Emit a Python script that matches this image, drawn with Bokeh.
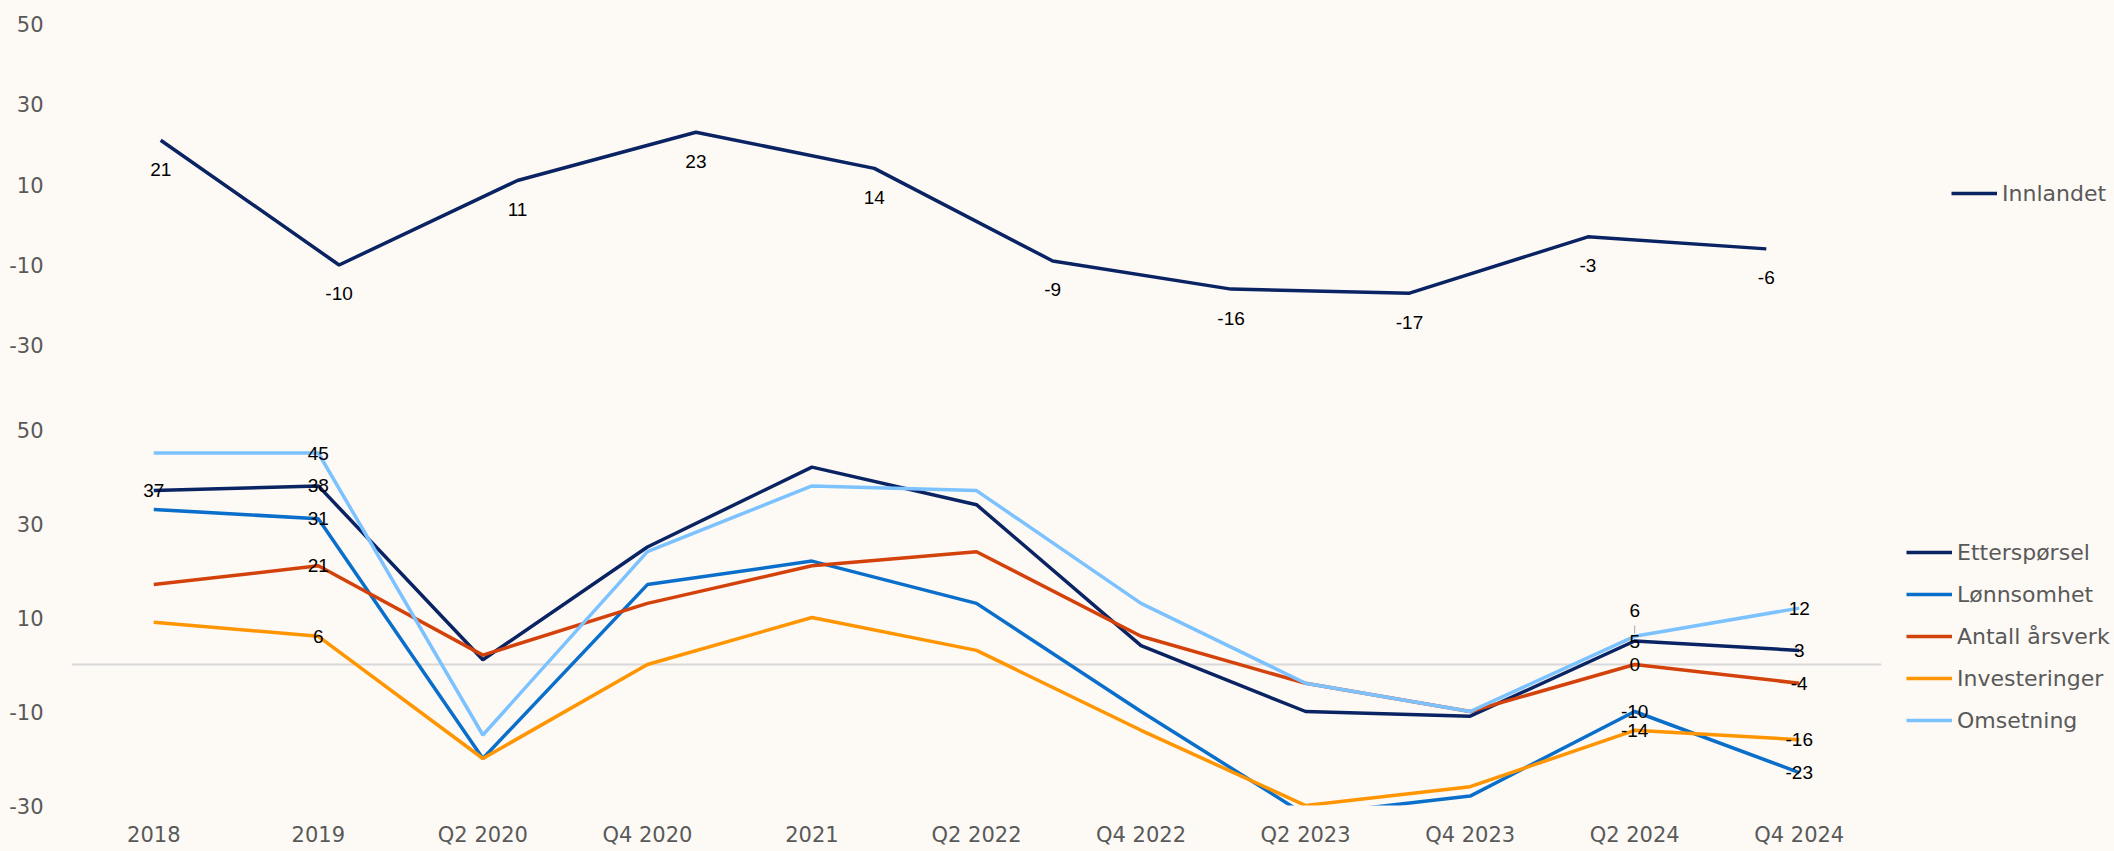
from bokeh.plotting import figure
from bokeh.models import Range1d, FactorRange, FixedTicker, Legend, LegendItem, ColumnDataSource
from bokeh.layouts import column
from bokeh.embed import file_html
from bokeh.resources import INLINE
from bokeh.core.properties import value

# ---------------- data ----------------
periods = ["2018", "2019", "Q2 2020", "Q4 2020", "2021", "Q2 2022",
           "Q4 2022", "Q2 2023", "Q4 2023", "Q2 2024", "Q4 2024"]

ettersporsel = [37, 38, 1, 25, 42, 34, 4, -10, -11, 5, 3]
lonnsomhet = [33, 31, -20, 17, 22, 13, -10, -32, -28, -10, -23]
antall_arsverk = [17, 21, 2, 13, 21, 24, 6, -4, -10, 0, -4]
investeringer = [9, 6, -20, 0, 10, 3, -14, -30, -26, -14, -16]
omsetning = [45, 45, -15, 24, 38, 37, 13, -4, -10, 6, 12]

innlandet = [21, -10, 11, 23, 14, -9, -16, -17, -3, -6]
innlandet_points = list(range(len(innlandet)))

y_ticks = [-30, -10, 10, 30, 50]
y_tick_labels = ["-30", "-10", "10", "30", "50"]

# which periods carry a data label
ettersporsel_labelled = ["2018", "2019", "Q2 2024", "Q4 2024"]
other_labelled = ["2019", "Q2 2024", "Q4 2024"]

# ---------------- style ----------------
BG = "#FDF9F5"
TICK_COL = "#595959"
NAVY = "#0A2463"
BLUE = "#0A6FCB"
RED = "#D4420C"
ORANGE = "#FF9500"
LIGHT = "#7CC2FF"
TICK_FONT = "DejaVu Sans"
LABEL_FONT = "Liberation Sans"
LW = 3.5


def style(p):
    p.background_fill_color = BG
    p.border_fill_color = BG
    p.outline_line_color = None
    p.yaxis.ticker = FixedTicker(ticks=y_ticks)
    p.yaxis.major_label_overrides = dict(zip(y_ticks, y_tick_labels))
    p.yaxis.axis_line_color = None
    p.yaxis.major_tick_line_color = None
    p.yaxis.minor_tick_line_color = None
    p.yaxis.major_label_text_font = TICK_FONT
    p.yaxis.major_label_text_font_size = "21px"
    p.yaxis.major_label_text_color = TICK_COL
    p.yaxis.major_label_standoff = 22
    p.xgrid.grid_line_color = None


def make_legend(items, loc):
    return Legend(items=items, location=loc, padding=0, margin=0, spacing=0,
                  glyph_width=46, glyph_height=42, label_height=42, label_standoff=5,
                  label_text_font=TICK_FONT, label_text_font_size="22px",
                  label_text_color=TICK_COL, background_fill_alpha=0, border_line_alpha=0)


# ---------------- top panel ----------------
top = figure(frame_width=1784, frame_height=342, min_border_left=71, min_border_right=259,
             min_border_top=13, min_border_bottom=35,
             x_range=Range1d(-0.5, len(innlandet) - 0.5), y_range=Range1d(-32.5, 52.5),
             output_backend="svg", toolbar_location=None)
style(top)
top.xaxis.visible = False
top.ygrid.grid_line_color = None

src_top = ColumnDataSource(dict(x=innlandet_points, y=innlandet,
                                t=[str(v) for v in innlandet]))
r_top = top.line("x", "y", source=src_top, line_color=NAVY, line_width=LW)
top.text("x", "y", text="t", source=src_top, text_align="center", text_baseline="middle",
         y_offset=29, text_font=value(LABEL_FONT), text_font_size="19px", text_color="black")

top.add_layout(make_legend([LegendItem(label="Innlandet", renderers=[r_top])], (96, 141)), "right")

# ---------------- bottom panel ----------------
bot = figure(frame_width=1810, frame_height=376, min_border_left=70, min_border_right=234,
             min_border_top=39, min_border_bottom=45,
             x_range=FactorRange(*periods), y_range=Range1d(-30, 50),
             output_backend="svg", toolbar_location=None)
style(bot)
bot.ygrid.ticker = FixedTicker(ticks=[0])
bot.ygrid.grid_line_color = "#D9D9D9"
bot.ygrid.grid_line_width = 2
bot.xaxis.axis_line_color = None
bot.xaxis.major_tick_line_color = None
bot.xaxis.minor_tick_line_color = None
bot.xaxis.major_label_text_font = TICK_FONT
bot.xaxis.major_label_text_font_size = "21px"
bot.xaxis.major_label_text_color = TICK_COL
bot.xaxis.major_label_standoff = 11

series = [("Etterspørsel", ettersporsel, NAVY, ettersporsel_labelled),
          ("Lønnsomhet", lonnsomhet, BLUE, other_labelled),
          ("Antall årsverk", antall_arsverk, RED, other_labelled),
          ("Investeringer", investeringer, ORANGE, other_labelled),
          ("Omsetning", omsetning, LIGHT, other_labelled)]

items = []
for name, vals, col, lab in series:
    r = bot.line(periods, vals, line_color=col, line_width=LW)
    items.append(LegendItem(label=name, renderers=[r]))

# data labels (drawn after all lines so they sit on top)
for name, vals, col, lab in series:
    xs = [p for p in periods if p in lab]
    ys = [v for p, v in zip(periods, vals) if p in lab]
    if name == "Omsetning":
        # label at Q2 2024 is lifted above the point with a leader line
        lifted = ["Q2 2024"]
        xs_n = [x for x in xs if x not in lifted]
        ys_n = [y for x, y in zip(xs, ys) if x not in lifted]
        xs_l = [x for x in xs if x in lifted]
        ys_l = [y for x, y in zip(xs, ys) if x in lifted]
        bot.text(xs_n, ys_n, text=[str(v) for v in ys_n], text_align="center",
                 text_baseline="middle", text_font=value(LABEL_FONT),
                 text_font_size="19px", text_color="black")
        bot.segment(xs_l, [y + 0.6 for y in ys_l], xs_l, [y + 2.3 for y in ys_l],
                    line_color="#A6A6A6", line_width=1)
        bot.text(xs_l, ys_l, text=[str(v) for v in ys_l], text_align="center",
                 text_baseline="middle", y_offset=-26, text_font=value(LABEL_FONT),
                 text_font_size="19px", text_color="black")
    else:
        bot.text(xs, ys, text=[str(v) for v in ys], text_align="center",
                 text_baseline="middle", text_font=value(LABEL_FONT),
                 text_font_size="19px", text_color="black")

bot.add_layout(make_legend(items, (25, 64)), "right")

layout = column(top, bot, spacing=0)

html = file_html(layout, INLINE, title="Innlandet")
html = html.replace(
    "</head>",
    "<style>html, body {margin:0 !important; padding:0 !important; background:%s;}</style></head>" % BG,
    1)
open("out.html", "w").write(html)
